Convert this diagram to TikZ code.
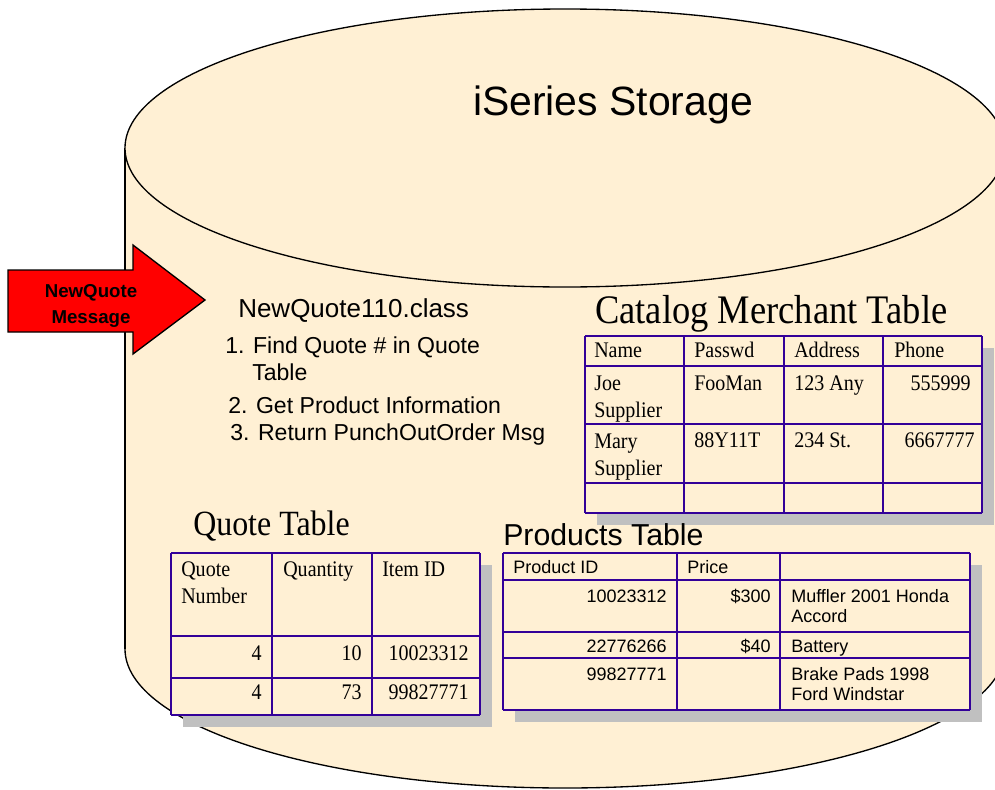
\documentclass[tikz,border=0pt]{standalone}
\usepackage{fontspec}
\setmainfont{Liberation Serif}
\setsansfont{Liberation Sans}
\newfontfamily\narrowserif[FakeStretch=0.9]{Liberation Serif}
\usepackage{xcolor}
\definecolor{cream}{RGB}{255,240,212}
\definecolor{gridpurple}{RGB}{51,0,153}
\definecolor{shadowgray}{RGB}{192,192,192}
\def\shoff{12}

\begin{document}
\begin{tikzpicture}[x=0.75pt,y=-0.75pt]
    \tikzstyle{outline}=[draw=black, line width=1pt]
    \tikzstyle{grid}=[draw=gridpurple, line width=2.2pt]
    \tikzstyle{shadow}=[fill=shadowgray]
    \tikzstyle{serifcell}=[inner sep=0pt, font=\narrowserif\fontsize{16.7}{20.25}\selectfont, align=left]
    \tikzstyle{sanscell}=[inner sep=0pt, font=\sffamily\fontsize{13.5}{15}\selectfont, align=left]
    \tikzstyle{steptext}=[inner sep=0pt, anchor=base west, font=\sffamily\fontsize{17.3}{20}\selectfont]

    \useasboundingbox (0,0) rectangle (995,789);
    \clip (0,0) rectangle (995,789);

    % cylinder body and top
    \fill[cream] (125,148) rectangle (1005,649);
    \fill[cream] (565,649) ellipse [x radius=440, y radius=139];
    \draw[outline] (125,148) -- (125,649);
    \begin{scope}
        \clip (0,649) rectangle (995,800);
        \draw[outline] (565,649) ellipse [x radius=440, y radius=139];
    \end{scope}
    \draw[outline, fill=cream] (565,148) ellipse [x radius=440, y radius=139];

    \node[inner sep=0pt, anchor=base, font=\sffamily\fontsize{30.7}{36}\selectfont] (storage) at (613,115) {iSeries Storage};

    % incoming message (multi-line nodes sit on their last baseline)
    \draw[outline, fill=red] (8,270) -- (133,270) -- (133,245) -- (205,300) -- (133,354) -- (133,332) -- (8,332) -- cycle;
    \node[inner sep=0pt, anchor=base, align=center, font=\sffamily\bfseries\fontsize{14}{19.5}\selectfont] (msg) at (91,323) {NewQuote\\Message};

    % class and its steps
    \node[inner sep=0pt, anchor=base west, font=\sffamily\fontsize{19.5}{24}\selectfont] (class) at (238,317) {NewQuote110.class};
    \node[steptext] (step-1) at (225,353) {1. Find Quote \# in Quote};
    \node[steptext] (step-1b) at (252,380) {Table};
    \node[steptext] (step-2) at (228,413) {2. Get Product Information};
    \node[steptext] (step-3) at (230,440) {3. Return PunchOutOrder Msg};

    % catalog merchant table
    \node[inner sep=0pt, anchor=base west, font=\narrowserif\fontsize{30.4}{34}\selectfont] (cm-title) at (595,323) {Catalog Merchant Table};
    \fill[shadow] (585+\shoff,336+\shoff) rectangle (982+\shoff,513+\shoff);
    \fill[cream] (585,336) rectangle (982,513);
    \foreach \x in {585,684,784,883,982}
        \draw[grid] (\x,336) -- (\x,513);
    \foreach \y in {336,366,424,483,513}
        \draw[grid] (585,\y) -- (982,\y);
    \node[serifcell, anchor=base west] (cm-h1) at (594,357) {Name};
    \node[serifcell, anchor=base west] (cm-h2) at (694,357) {Passwd};
    \node[serifcell, anchor=base west] (cm-h3) at (794,357) {Address};
    \node[serifcell, anchor=base west] (cm-h4) at (894,357) {Phone};
    \node[serifcell, anchor=base west] (cm-11) at (594,417) {Joe\\Supplier};
    \node[serifcell, anchor=base west] (cm-12) at (694,390) {FooMan};
    \node[serifcell, anchor=base west] (cm-13) at (794,390) {123 Any};
    \node[serifcell, anchor=base east] (cm-14) at (971,390) {555999};
    \node[serifcell, anchor=base west] (cm-21) at (594,475) {Mary\\Supplier};
    \node[serifcell, anchor=base west] (cm-22) at (694,447) {88Y11T};
    \node[serifcell, anchor=base west] (cm-23) at (794,447) {234 St.};
    \node[serifcell, anchor=base east] (cm-24) at (975,447) {6667777};

    % quote table
    \node[inner sep=0pt, anchor=base west, font=\narrowserif\fontsize{26.6}{30}\selectfont] (q-title) at (193,535) {Quote Table};
    \fill[shadow] (171+\shoff,553+\shoff) rectangle (480+\shoff,715+\shoff);
    \fill[cream] (171,553) rectangle (480,715);
    \foreach \x in {171,272,372,480}
        \draw[grid] (\x,553) -- (\x,715);
    \foreach \y in {553,636,678,715}
        \draw[grid] (171,\y) -- (480,\y);
    \node[serifcell, anchor=base west] (q-h1) at (181,603) {Quote\\Number};
    \node[serifcell, anchor=base west] (q-h2) at (283,576) {Quantity};
    \node[serifcell, anchor=base west] (q-h3) at (382,576) {Item ID};
    \node[serifcell, anchor=base east] (q-11) at (262,660) {4};
    \node[serifcell, anchor=base east] (q-12) at (362,660) {10};
    \node[serifcell, anchor=base east] (q-13) at (469,660) {10023312};
    \node[serifcell, anchor=base east] (q-21) at (262,699) {4};
    \node[serifcell, anchor=base east] (q-22) at (362,699) {73};
    \node[serifcell, anchor=base east] (q-23) at (469,699) {99827771};

    % products table
    \node[inner sep=0pt, anchor=base west, font=\sffamily\fontsize{22.7}{26}\selectfont] (p-title) at (503,545) {Products Table};
    \fill[shadow] (503+\shoff,553+\shoff) rectangle (970+\shoff,710+\shoff);
    \fill[cream] (503,553) rectangle (970,710);
    \foreach \x in {503,677,780,970}
        \draw[grid] (\x,553) -- (\x,710);
    \foreach \y in {553,580,632,658,710}
        \draw[grid] (503,\y) -- (970,\y);
    \node[sanscell, anchor=base west] (p-h1) at (513,573) {Product ID};
    \node[sanscell, anchor=base west] (p-h2) at (687,573) {Price};
    \node[sanscell, anchor=base east] (p-11) at (667,602) {10023312};
    \node[sanscell, anchor=base east] (p-12) at (771,602) {\$300};
    \node[sanscell, anchor=base west] (p-13) at (791,622) {Muffler 2001 Honda\\Accord};
    \node[sanscell, anchor=base east] (p-21) at (667,652) {22776266};
    \node[sanscell, anchor=base east] (p-22) at (771,652) {\$40};
    \node[sanscell, anchor=base west] (p-23) at (791,652) {Battery};
    \node[sanscell, anchor=base east] (p-31) at (667,680) {99827771};
    \node[sanscell, anchor=base west] (p-33) at (791,700) {Brake Pads 1998\\Ford Windstar};
\end{tikzpicture}
\end{document}
